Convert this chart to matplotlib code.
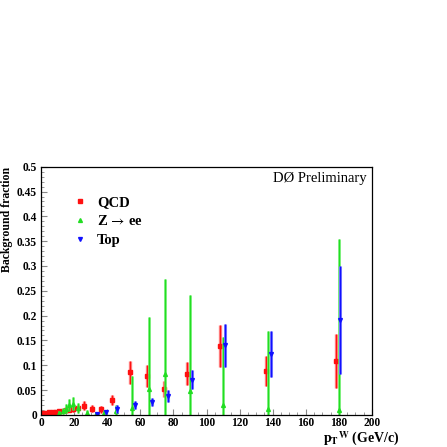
import numpy as np
import matplotlib
matplotlib.use("Agg")
import matplotlib.pyplot as plt
from matplotlib.ticker import MultipleLocator

# values
qcd_x = [1, 3, 5, 7, 9, 11, 13, 15, 17, 19, 22, 26, 31, 36, 43, 54, 64, 74, 88, 108, 136, 178]
qcd_y = [0.003, 0.004, 0.005, 0.006, 0.006, 0.008, 0.008, 0.009, 0.010, 0.012, 0.013, 0.018,
         0.012, 0.011, 0.030, 0.086, 0.079, 0.052, 0.083, 0.139, 0.089, 0.109]
qcd_err = [0.002, 0.002, 0.003, 0.003, 0.003, 0.004, 0.004, 0.005, 0.005, 0.006, 0.006, 0.009,
           0.007, 0.007, 0.010, 0.023, 0.022, 0.016, 0.023, 0.042, 0.030, 0.054]

z_x = [11, 13, 15, 17, 19, 22, 28, 33, 38, 45, 55, 65, 75, 90, 110, 137, 180]
z_y = [0.004, 0.007, 0.012, 0.020, 0.022, 0.013, 0.003, 0.002, 0.004, 0.007, 0.013,
       0.052, 0.083, 0.048, 0.020, 0.011, 0.009]
z_err = [0.004, 0.006, 0.009, 0.012, 0.013, 0.010, 0.007, 0.004, 0.006, 0.012, 0.066,
         0.145, 0.190, 0.194, 0.137, 0.157, 0.346]

top_x = [34, 39, 46, 57, 67, 77, 91, 111, 139, 181]
top_y = [0.002, 0.005, 0.011, 0.020, 0.025, 0.038, 0.071, 0.140, 0.123, 0.191]
top_err = [0.003, 0.004, 0.008, 0.008, 0.008, 0.012, 0.019, 0.043, 0.046, 0.108]

labels = ["QCD", r"Z$\,\rightarrow\,$ee", "Top"]

plt.rcParams['font.family'] = ['Liberation Serif', 'DejaVu Serif']
plt.rcParams['mathtext.fontset'] = 'stix'

fig = plt.figure(figsize=(4.47, 4.47), dpi=100)
ax = fig.add_axes([0.092, 0.072, 0.740, 0.555])

series = [
    (qcd_x, qcd_y, qcd_err, '#ff1010', '#ff8888', 's', 3.4, 2.4),
    (z_x, z_y, z_err, '#22dd22', '#66ee66', '^', 2.8, 1.8),
    (top_x, top_y, top_err, '#1010ff', '#7a7aff', 'v', 2.8, 2.2),
]
handles = []
for (x, y, e, c, lc, m, ms, lw), lab in zip(series, labels):
    # wide light band of the error bar, then a thin dark line on top
    ax.errorbar(x, y, yerr=e, fmt='none', ecolor=lc, elinewidth=lw, capsize=0)
    ax.errorbar(x, y, yerr=e, fmt='none', ecolor=c, elinewidth=0.9, capsize=0)
    h, = ax.plot(x, y, linestyle='none', marker=m, ms=ms, color=c, mec=c, label=lab)
    handles.append(h)

ax.set_xlim(0, 200)
ax.set_ylim(0, 0.5)
ax.xaxis.set_major_locator(MultipleLocator(20))
ax.xaxis.set_minor_locator(MultipleLocator(5))
ax.yaxis.set_minor_locator(MultipleLocator(0.01))
ax.set_yticks(np.arange(0, 0.501, 0.05))
ax.set_yticklabels(["0", "0.05", "0.1", "0.15", "0.2", "0.25", "0.3", "0.35", "0.4", "0.45", "0.5"])
ax.tick_params(which='both', direction='in', top=False, right=False, labelsize=8.3, pad=3, color='#888888')
ax.tick_params(axis='x', pad=1.5)
ax.tick_params(which='major', length=4)
ax.tick_params(which='minor', length=2)
for t in ax.get_xticklabels() + ax.get_yticklabels():
    t.set_fontweight('bold')
for s in ax.spines.values():
    s.set_linewidth(0.9)

ax.set_ylabel("Background fraction", fontsize=8.5, fontweight='bold', loc='top')
ax.yaxis.set_label_coords(-0.085, 1.0)
fig.text(0.895, 0.009, r"p$_{\mathbf{T}}$$^{\mathbf{W}}$ (GeV/c)", fontsize=10,
         fontweight='bold', ha='right', va='baseline')
ax.text(0.985, 0.98, "DØ Preliminary", transform=ax.transAxes, fontsize=10.5,
        ha='right', va='top')

leg = ax.legend(handles=handles, loc='upper left', bbox_to_anchor=(0.055, 0.935), frameon=False,
                prop={'weight': 'bold', 'size': 10.5}, handletextpad=0.7, labelspacing=0.35,
                handlelength=1.0)

fig.savefig("out.png", dpi=100)
